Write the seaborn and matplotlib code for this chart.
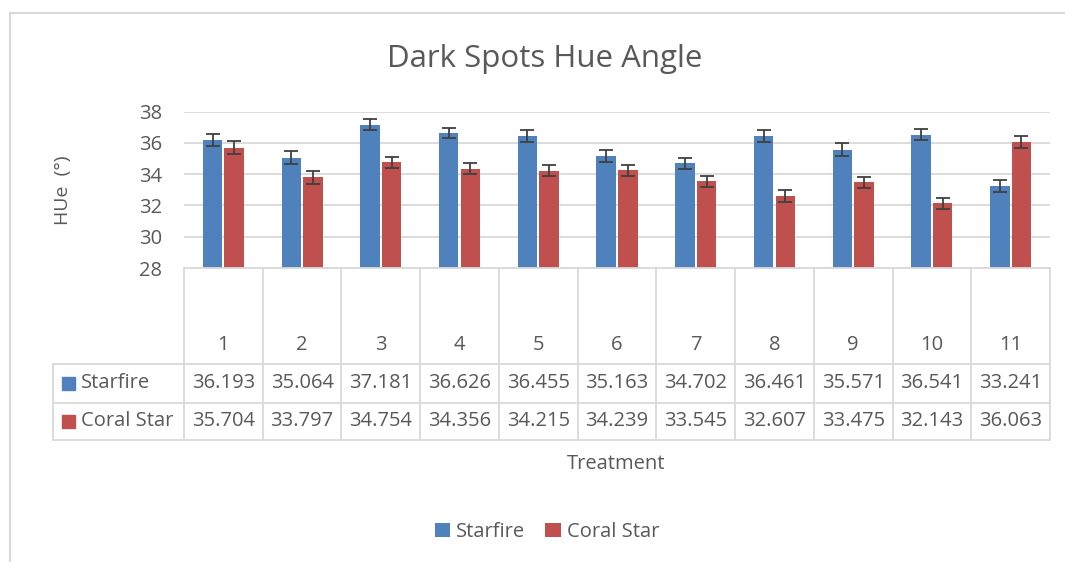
import seaborn as sns
import pandas as pd
import matplotlib.pyplot as plt
from matplotlib.lines import Line2D
from matplotlib.patches import Rectangle

# Data
treatments = ["1", "2", "3", "4", "5", "6", "7", "8", "9", "10", "11"]
starfire = [36.193, 35.064, 37.181, 36.626, 36.455, 35.163, 34.702, 36.461, 35.571, 36.541, 33.241]
coral_star = [35.704, 33.797, 34.754, 34.356, 34.215, 34.239, 33.545, 32.607, 33.475, 32.143, 36.063]
starfire_err = [0.41, 0.39, 0.35, 0.34, 0.40, 0.40, 0.34, 0.40, 0.40, 0.34, 0.40]
coral_err = [0.40, 0.40, 0.35, 0.34, 0.35, 0.35, 0.34, 0.40, 0.34, 0.34, 0.40]
series = ["Starfire", "Coral Star"]
colors = ["#4F81BD", "#C0504D"]
y_ticks = [28, 30, 32, 34, 36, 38]

TXT = "#595959"
GRID = "#D9D9D9"
FONT = "Open Sans"

df = pd.DataFrame({
    "Treatment": treatments * 2,
    "Value": starfire + coral_star,
    "Series": [series[0]] * len(treatments) + [series[1]] * len(treatments),
})

sns.set_style("white")
plt.rcParams["font.family"] = [FONT, "DejaVu Sans"]

W, H = 1065, 562
fig = plt.figure(figsize=(W / 100, H / 100), dpi=100)

# pixel helpers (from top-left)
def fx(px):
    return px / W

def fy(py):
    return 1 - py / H

ax_left, ax_right, ax_top, ax_bottom = 184, 1050, 111.7, 268
ax = fig.add_axes([fx(ax_left), fy(ax_bottom), fx(ax_right - ax_left), (ax_bottom - ax_top) / H])

sns.barplot(data=df, x="Treatment", y="Value", hue="Series", order=treatments,
            hue_order=series, palette=colors, width=0.55, gap=0.1,
            errorbar=None, ax=ax, saturation=1, edgecolor="none")

# error bars on bar centres
for cont, errs in zip(ax.containers, [starfire_err, coral_err]):
    xs = [p.get_x() + p.get_width() / 2 for p in cont.patches]
    ys = [p.get_height() for p in cont.patches]
    ax.errorbar(xs, ys, yerr=errs, fmt="none", ecolor="#404040", elinewidth=1.3,
                capsize=5, capthick=1.3, zorder=5)

ax.set_ylim(28, 38)
ax.set_xlim(-0.5, len(treatments) - 0.5)
ax.set_yticks(y_ticks)
ax.set_yticklabels([str(t) for t in y_ticks], fontsize=14.5, color=TXT)
ax.tick_params(axis="y", length=0, pad=16)
ax.tick_params(axis="x", length=0, labelbottom=False)
ax.set_xlabel("")
ax.set_ylabel("")
ax.yaxis.grid(True, color=GRID, linewidth=1.3)
ax.set_axisbelow(True)
for s in ax.spines.values():
    s.set_visible(False)

handles, labels = ax.get_legend_handles_labels()
ax.get_legend().remove()

# data table below the plot, x in category units, y in pixels from top
tab = fig.add_axes([fx(ax_left), fy(440), fx(ax_right - ax_left), (440 - 268) / H])
tab.set_xlim(ax.get_xlim())
tab.set_ylim(440, 268)
tab.axis("off")
cat_w = (ax_right - ax_left) / len(treatments)
x0 = -0.5
x_label = x0 - (ax_left - 53) / cat_w
x_end = len(treatments) - 0.5
row_lines = [364, 402.7, 440]
lk = dict(color=GRID, linewidth=1.3, clip_on=False)
tab.plot([x0, x_end], [268, 268], **lk)
for y in row_lines:
    tab.plot([x_label, x_end], [y, y], **lk)
for i in range(len(treatments) + 1):
    tab.plot([x0 + i, x0 + i], [268, 440], **lk)
tab.plot([x_label, x_label], [364, 440], **lk)

for i, t in enumerate(treatments):
    tab.text(i, 345, t, ha="center", va="center", fontsize=14.5, color=TXT)
row_y = [383.5, 421.5]
for vals, y in zip([starfire, coral_star], row_y):
    for i, v in enumerate(vals):
        tab.text(i, y, f"{v:.3f}", ha="center", va="center", fontsize=14.5, color=TXT)
for name, c, y in zip(series, colors, row_y):
    sq = (75 - 62) / cat_w
    tab.add_patch(Rectangle((x_label + (62 - 53) / cat_w, y - 6.5), sq, 13,
                            color=c, clip_on=False))
    tab.text(x_label + (81 - 53) / cat_w, y, name, ha="left", va="center",
             fontsize=14.5, color=TXT, clip_on=False)

# titles and labels
fig.text(fx(545), fy(59), "Dark Spots Hue Angle", ha="center", va="center",
         fontsize=22.5, color=TXT)
fig.text(fx(63), fy(190), "HUe  (°)", rotation=90, ha="center", va="center",
         fontsize=14, color=TXT)
fig.text(fx(616), fy(464), "Treatment", ha="center", va="center",
         fontsize=14.5, color=TXT)

fig.legend(handles, labels, loc="center", bbox_to_anchor=(fx(547), fy(532)),
           ncol=2, frameon=False, fontsize=14.5, labelcolor=TXT,
           handlelength=0.75, handleheight=0.75, handletextpad=0.3,
           columnspacing=1.0)

# outer chart border
fig.add_artist(Line2D([fx(10), 1], [fy(13), fy(13)], color=GRID, linewidth=1.5))
fig.add_artist(Line2D([fx(10), fx(10)], [fy(13), 0], color=GRID, linewidth=1.5))

fig.savefig("out.png", dpi=100)
